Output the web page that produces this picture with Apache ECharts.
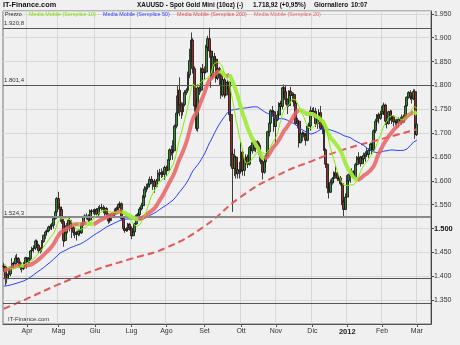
<!DOCTYPE html>
<html><head><meta charset="utf-8">
<script src="https://cdn.jsdelivr.net/npm/echarts@6/dist/echarts.min.js"></script>
<style>html,body{margin:0;padding:0;background:#f0f0f0}#c{width:460px;height:345px}</style>
</head><body><div id="c"></div>
<script>
// closes before the visible window (Jan 3 - Mar 11 2011), used only for the moving averages
const historyCloses = [1423,1380,1376,1372,1369,1375,1384,1386,1387,1360,1365,1368,1370,1345,1342,1344,1333,1342,1319,1340,1333,
  1340,1333,1352,1349,1349,1362,1364,1364,1361,1363,1374,1375,1384,1388,1405,1401,1415,1414,1409,1411,
  1433,1437,1416,1429,1434,1427,1433,1411,1421];
const firstDay = '2011-03-14', lastDay = '2012-03-01';
const holidays = ['2011-04-22','2011-04-25','2011-12-26','2012-01-02'];
const padBars = 8;
// [open, close, low, high]
const ohlcMar11 = [[1421,1421,1410,1428],[1421,1395,1381,1424],[1395,1403,1385,1406],[1403,1405,1394,1418],[1405,1418,1400,1420],
  [1418,1427,1415,1438],[1427,1426,1419,1431],[1426,1438,1422,1444],[1438,1437,1432,1447],[1437,1428,1421,1440],
  [1428,1418,1413,1431],[1418,1416,1408,1425],[1416,1424,1413,1430],[1424,1439,1419,1441]];
const ohlcApr11 = [[1439,1429,1416,1440],[1429,1437,1427,1439],[1437,1453,1433,1455],[1453,1458,1450,1462],[1458,1459,1450,1465],
  [1459,1474,1455,1477],[1474,1465,1460,1477],[1465,1454,1448,1468],[1454,1457,1448,1461],[1457,1473,1451,1476],
  [1473,1486,1470,1487],[1486,1493,1478,1496],[1493,1495,1488,1498],[1495,1503,1492,1506],[1503,1505,1498,1509],
  [1505,1507,1497,1512],[1507,1521,1500,1524],[1521,1535,1519,1538],[1535,1563,1533,1566]];
const ohlcMay11 = [[1563,1545,1540,1577],[1545,1540,1524,1553],[1540,1515,1510,1546],[1515,1475,1462,1520],[1475,1491,1472,1511],
  [1491,1506,1488,1512],[1506,1517,1500,1521],[1517,1501,1494,1522],[1501,1502,1480,1505],[1502,1492,1485,1510],
  [1492,1488,1480,1496],[1488,1489,1475,1495],[1489,1495,1484,1498],[1495,1491,1485,1498],[1491,1510,1489,1512],
  [1510,1524,1505,1527],[1524,1526,1518,1530],[1526,1526,1519,1532],[1526,1518,1513,1530],[1518,1537,1515,1540],
  [1537,1536,1530,1541],[1536,1536,1530,1541]];
const ohlcJun11 = [[1536,1540,1528,1542],[1540,1530,1524,1543],[1530,1542,1526,1547],[1542,1544,1537,1549],[1544,1544,1538,1552],
  [1544,1540,1532,1549],[1540,1542,1527,1546],[1542,1530,1526,1545],[1530,1516,1510,1532],[1516,1525,1512,1529],
  [1525,1530,1516,1533],[1530,1529,1522,1534],[1529,1539,1525,1542],[1539,1543,1533,1546],[1543,1551,1538,1553],
  [1551,1552,1545,1557],[1552,1521,1517,1555],[1521,1500,1496,1524],[1500,1496,1491,1505],[1496,1498,1493,1503],
  [1498,1509,1494,1512],[1509,1501,1496,1512]];
const ohlcJul11 = [[1501,1485,1478,1505],[1485,1493,1484,1496],[1493,1510,1490,1512],[1510,1528,1508,1530],[1528,1529,1520,1533],
  [1529,1541,1523,1545],[1541,1548,1538,1554],[1548,1566,1544,1570],[1566,1583,1563,1589],[1583,1587,1576,1594],
  [1587,1593,1582,1595],[1593,1603,1589,1609],[1603,1599,1593,1610],[1599,1599,1581,1603],[1599,1588,1575,1604],
  [1588,1600,1586,1604],[1600,1614,1600,1623],[1614,1617,1610,1625],[1617,1614,1606,1626],[1614,1614,1608,1621],
  [1614,1628,1602,1632]];
const ohlcAug11 = [[1628,1622,1610,1632],[1622,1644,1620,1645],[1644,1665,1642,1668],[1665,1659,1653,1674],[1659,1663,1644,1685],
  [1663,1715,1663,1718],[1715,1742,1710,1779],[1742,1790,1735,1800],[1790,1759,1736,1817],[1759,1745,1730,1765],
  [1745,1760,1737,1764],[1760,1785,1756,1790],[1785,1790,1780,1794],[1790,1822,1788,1829],[1822,1852,1815,1877],
  [1852,1895,1850,1911],[1895,1835,1825,1899],[1835,1757,1745,1840],[1757,1710,1705,1775],[1710,1795,1703,1802],
  [1795,1790,1780,1798],[1790,1835,1785,1838],[1835,1827,1813,1845]];
const ohlcSep11 = [[1827,1828,1812,1840],[1828,1880,1825,1885],[1880,1898,1874,1904],[1898,1872,1858,1921],[1872,1818,1795,1876],
  [1818,1860,1813,1872],[1860,1855,1840,1868],[1855,1815,1806,1862],[1815,1835,1811,1838],[1835,1825,1800,1839],
  [1825,1780,1772,1828],[1780,1812,1776,1815],[1812,1780,1773,1816],[1780,1806,1777,1810],[1806,1807,1790,1812],
  [1807,1739,1725,1808],[1739,1656,1630,1750],[1656,1626,1535,1662],[1626,1650,1610,1667],[1650,1615,1605,1653],
  [1615,1623,1605,1638],[1623,1620,1605,1640]];
const ohlcOct11 = [[1620,1660,1615,1681],[1660,1622,1611,1667],[1622,1644,1610,1647],[1644,1650,1634,1656],[1650,1635,1627,1655],
  [1635,1670,1632,1673],[1670,1663,1656,1675],[1663,1680,1657,1685],[1680,1668,1662,1683],[1668,1682,1660,1685],
  [1682,1675,1664,1685],[1675,1655,1640,1680],[1655,1640,1635,1665],[1640,1618,1603,1645],[1618,1640,1615,1645],
  [1640,1652,1628,1655],[1652,1703,1650,1705],[1703,1721,1693,1730],[1721,1747,1718,1750],[1747,1745,1735,1757],
  [1745,1714,1703,1748]];
const ohlcNov11 = [[1714,1730,1680,1733],[1730,1738,1725,1747],[1738,1762,1727,1765],[1762,1756,1748,1768],[1756,1795,1750,1797],
  [1795,1787,1775,1802],[1787,1770,1760,1799],[1770,1758,1740,1773],[1758,1788,1755,1790],[1788,1779,1772,1797],
  [1779,1781,1765,1786],[1781,1763,1756,1785],[1763,1720,1717,1767],[1720,1725,1710,1732],[1725,1680,1670,1728],
  [1680,1699,1679,1703],[1699,1700,1683,1704],[1700,1696,1691,1703],[1696,1685,1674,1699],[1685,1715,1683,1718],
  [1715,1715,1701,1722],[1715,1747,1705,1756]];
const ohlcDec11 = [[1747,1745,1738,1753],[1745,1746,1733,1755],[1746,1720,1713,1753],[1720,1730,1709,1733],[1730,1743,1727,1750],
  [1743,1710,1707,1757],[1710,1714,1698,1720],[1714,1665,1663,1718],[1665,1635,1627,1668],[1635,1585,1574,1636],
  [1585,1576,1563,1596],[1576,1597,1575,1603],[1597,1605,1592,1608],[1605,1617,1595,1620],[1617,1612,1605,1631],
  [1612,1605,1600,1618],[1605,1606,1600,1612],[1606,1594,1590,1610],[1594,1556,1549,1598],[1556,1540,1523,1561],
  [1540,1566,1539,1574]];
const ohlcJan12 = [[1566,1600,1565,1612],[1600,1613,1592,1615],[1613,1620,1596,1625],[1620,1617,1610,1626],[1617,1608,1604,1622],
  [1608,1634,1606,1638],[1634,1646,1632,1652],[1646,1650,1638,1660],[1650,1636,1630,1652],[1636,1646,1636,1652],
  [1646,1653,1640,1659],[1653,1658,1640,1662],[1658,1655,1650,1669],[1655,1664,1648,1668],[1664,1677,1665,1680],
  [1677,1665,1655,1680],[1665,1705,1662,1708],[1705,1725,1700,1730],[1725,1738,1716,1740],[1738,1731,1720,1743],
  [1731,1740,1728,1747]];
const ohlcFeb12 = [[1740,1745,1735,1757],[1745,1759,1738,1764],[1759,1725,1717,1762],[1725,1720,1710,1727],[1720,1745,1718,1747],
  [1745,1730,1726,1749],[1730,1735,1719,1748],[1735,1724,1714,1737],[1724,1723,1717,1729],[1723,1722,1710,1730],
  [1722,1729,1712,1733],[1729,1725,1718,1734],[1725,1723,1718,1739],[1723,1735,1721,1739],[1735,1757,1733,1760],
  [1757,1775,1755,1777],[1775,1785,1772,1788],[1785,1775,1770,1790],[1775,1772,1762,1780],[1772,1787,1769,1792],
  [1787,1697,1688,1792]];
const ohlcMar12 = [[1697,1719,1694,1722]];
// 200-day average
const ma200Dates = ['2011-03-14','2011-04-01','2011-05-02','2011-06-01','2011-07-01','2011-08-01','2011-09-01','2011-10-03','2011-11-01','2011-12-01','2012-01-03','2012-02-01','2012-03-01'];
const ma200Values = [1332,1353,1383,1413,1437,1460,1505,1567,1610,1642,1668,1688,1708];
const refLevels = [1920.8, 1801.4, 1524.3, 1396, 1344];
const refLabels = ['1.920,8','1.801,4','1.524,3','',''];
const lastValues = [1740.8, 1718.92, 1704.2];
const lastTexts = ['1.740,8','1.718,92','1.704,2'];
const monthNames = ['Gen','Feb','Mar','Apr','Mag','Giu','Lug','Ago','Set','Ott','Nov','Dic'];
const legendTexts = ['Prezzo','Media Mobile (Semplice 10)','Media Mobile (Semplice 50)','Media Mobile (Semplice 200)','Media Mobile (Semplice 20)'];

const ohlc = [].concat(ohlcMar11,ohlcApr11,ohlcMay11,ohlcJun11,ohlcJul11,ohlcAug11,ohlcSep11,ohlcOct11,ohlcNov11,ohlcDec11,ohlcJan12,ohlcFeb12,ohlcMar12);
const dates = [];
for (let d = new Date(firstDay+'T00:00:00Z'); d <= new Date(lastDay+'T00:00:00Z'); d.setUTCDate(d.getUTCDate()+1)) {
  const wd = d.getUTCDay(); if (wd === 0 || wd === 6) continue;
  const s = d.toISOString().slice(0,10); if (holidays.includes(s)) continue; dates.push(s);
}
const cats = dates.slice();
for (let i = 1; i <= padBars; i++) cats.push('pad' + i);
const monthStart = new Set();
for (let i = 1; i < dates.length; i++) if (dates[i].slice(5,7) !== dates[i-1].slice(5,7)) monthStart.add(i);
const isMonth = (i) => monthStart.has(i);

const closes = historyCloses.concat(ohlc.map(r => r[1]));
const H = historyCloses.length;
function ma(n) {
  return ohlc.map((r, i) => { let s = 0; for (let k = H+i-n+1; k <= H+i; k++) s += closes[k]; return +(s/n).toFixed(2); });
}
const ma10 = ma(10), ma20 = ma(20), ma50 = ma(50);
const ma20Up = ma20.map((v,i) => ((i>0 && v>=ma20[i-1]) || (i<ma20.length-1 && ma20[i+1]>=v)) ? v : null);
const ma20Dn = ma20.map((v,i) => ((i>0 && v<ma20[i-1]) || (i<ma20.length-1 && ma20[i+1]<v)) ? v : null);

const FF = 'Liberation Sans, Arial, sans-serif';
function fmtY(v) { const t = Math.round(v); return Math.floor(t/1000) + '.' + String(t%1000).padStart(3,'0'); }

const chart = echarts.init(document.getElementById('c'), null, {renderer:'canvas'});
const markData = refLevels.map((v,i) => ({
  yAxis: v,
  lineStyle: {color: i===2 ? '#8a8a8a' : '#555', width: i===2 ? 2 : 1.2, type:'solid'},
  label: {show: !!refLabels[i], formatter: refLabels[i], position:'insideStartTop', distance: 1, fontSize: 6, color:'#333', fontFamily: FF}
})).concat(lastValues.map((v,i) => ({
  yAxis: v,
  lineStyle: {opacity: 0},
  label: {show: true, formatter: lastTexts[i], position: 'end', distance: 2, fontSize: 6.5, fontFamily: FF,
    color: i===1 ? '#000' : '#e06a6a', backgroundColor: i===1 ? '#efc000' : '#fafafa',
    borderColor: '#999', borderWidth: 1, padding: [1,2,0,2]}
})));

const lx = [5, 29, 103, 177, 254];
const lc = ['#222', '#7ee000', '#2a3cff', '#e05050', '#e06a6a'];
const TF = 'bold 6.4px ' + FF;
const graphics = [
  {type:'text', x:3, y:5, style:{text:'IT-Finance.com', font:'bold 7.3px '+FF, fill:'#111', verticalAlign:'middle'}},
  {type:'text', x:137, y:5, style:{text:'XAUUSD - Spot Gold Mini (10oz) (-)', font:TF, fill:'#111', verticalAlign:'middle'}},
  {type:'text', x:253, y:5, style:{text:'1.718,92 (+0,95%)', font:TF, fill:'#111', verticalAlign:'middle'}},
  {type:'text', x:314, y:5, style:{text:'Giornaliero', font:TF, fill:'#111', verticalAlign:'middle'}},
  {type:'text', x:351, y:5, style:{text:'10:07', font:TF, fill:'#111', verticalAlign:'middle'}},
  {type:'text', x:8, y:319, style:{text:'IT-Finance.com', font:'6px '+FF, fill:'#333', verticalAlign:'middle'}}
].concat(legendTexts.map((t,i) => ({type:'text', x: lx[i], y: 14.5, z: 10,
  style:{text:t, font:'5.4px '+FF, fill: lc[i], verticalAlign:'middle'}})));

chart.setOption({
  animation: false,
  backgroundColor: '#f0f0f0',
  grid: {left: 3, right: 29, top: 11, bottom: 21, show: true, backgroundColor: '#f0f0f0', borderColor: '#777', borderWidth: 1},
  xAxis: {
    type: 'category', data: cats, boundaryGap: true,
    axisLine: {lineStyle: {color: '#555', width: 1}},
    axisTick: {show: true, interval: isMonth, length: 3, alignWithLabel: true, lineStyle: {color: '#555'}},
    axisLabel: {interval: isMonth, margin: 4, fontSize: 7, color: '#333', fontFamily: FF,
      formatter: (v) => { const m = +v.slice(5,7) - 1; return m === 0 ? '{b|' + v.slice(0,4) + '}' : monthNames[m]; },
      rich: {b: {fontWeight: 'bold', fontSize: 7.5, color: '#222', fontFamily: FF}}},
    splitLine: {show: true, interval: isMonth, lineStyle: {color: '#d8d8d8', width: 1}}
  },
  yAxis: {
    type: 'value', position: 'right', min: 1300, max: 1956, interval: 50, scale: true,
    axisLine: {show: true, lineStyle: {color: '#444', width: 1}},
    axisTick: {show: true, length: 3, lineStyle: {color: '#444'}},
    axisLabel: {showMaxLabel: false, showMinLabel: false, margin: 3, fontSize: 7, color: '#333', fontFamily: FF,
      formatter: (v) => v === 1500 ? '{b|' + fmtY(v) + '}' : fmtY(v),
      rich: {b: {fontWeight: 'bold', fontSize: 7.5, color: '#111', fontFamily: FF}}},
    splitLine: {show: true, lineStyle: {color: '#d8d8d8', width: 1}}
  },
  graphic: graphics,
  series: [
    {type: 'candlestick', data: ohlc, barWidth: 2.4, z: 2,
      itemStyle: {color: '#2f8a2f', color0: '#962e2e', borderColor: '#111', borderColor0: '#111', borderWidth: 0.8},
      markLine: {symbol: 'none', silent: true, animation: false, data: markData}},
    {type: 'line', data: ma200Dates.map((d,i) => [d, ma200Values[i]]), smooth: true, symbol: 'none', z: 3,
      lineStyle: {color: '#e05a5a', width: 2, type: [7,4]}},
    {type: 'line', data: ma50, symbol: 'none', z: 4, lineStyle: {color: '#2a3cff', width: 1}},
    {type: 'line', data: ma20Up, symbol: 'none', z: 5, lineStyle: {color: 'rgba(232,100,100,0.85)', width: 4}},
    {type: 'line', data: ma20Dn, symbol: 'none', z: 5, lineStyle: {color: 'rgba(160,235,60,0.95)', width: 4}},
    {type: 'line', data: ma10, symbol: 'none', z: 6, lineStyle: {color: '#80f000', width: 1}}
  ]
});
</script></body></html>
